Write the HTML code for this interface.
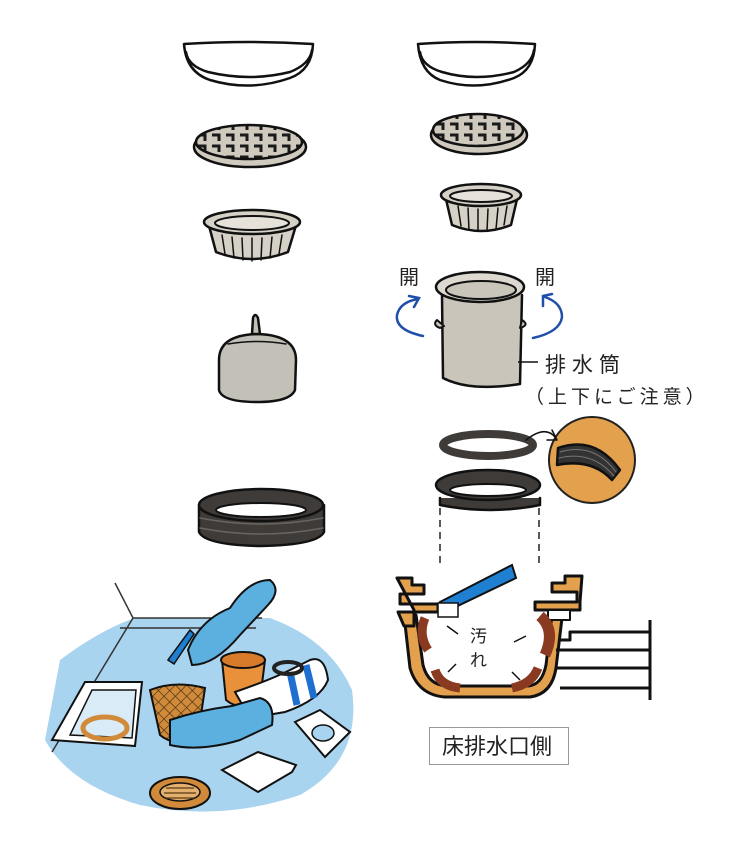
<!DOCTYPE html>
<html><head><meta charset="utf-8"><style>
html,body{margin:0;padding:0;background:#fff;}
svg{display:block}
text{font-family:"Liberation Sans","Noto Sans CJK JP",sans-serif;fill:#222;}
</style></head><body>
<svg width="735" height="841" viewBox="0 0 735 841" xmlns="http://www.w3.org/2000/svg">
<defs>
<pattern id="grid" width="14" height="11" patternUnits="userSpaceOnUse">
<rect width="14" height="11" fill="#cfcabd"/><path d="M2 3h7v6" stroke="#1a1a1a" stroke-width="3" fill="none"/>
</pattern>
<pattern id="mesh" width="8" height="8" patternUnits="userSpaceOnUse" patternTransform="rotate(45)">
<rect width="8" height="8" fill="#d08a3a"/><path d="M0 0H8M0 0V8" stroke="#3a2a10" stroke-width="1.2"/>
</pattern>
</defs>
<g stroke="#111" stroke-width="2.5" stroke-linejoin="round" stroke-linecap="round">
<!-- lids -->
<path d="M184 44 Q248 40 313 44 Q312 70 290 78 Q250 92 210 80 Q186 72 184 44Z" fill="#fff"/>
<path d="M186 52 Q188 66 208 72 Q250 82 290 72 Q310 64 312 50" fill="none"/>
<path d="M418 44 Q475 40 535 44 Q534 70 514 78 Q476 92 440 80 Q420 72 418 44Z" fill="#fff"/>
<path d="M420 52 Q422 66 442 72 Q476 82 514 72 Q532 64 534 50" fill="none"/>
<!-- grids -->
<ellipse cx="250" cy="147" rx="56" ry="20" fill="#cfcabd"/>
<ellipse cx="249" cy="142" rx="53" ry="17" fill="url(#grid)"/>
<ellipse cx="479" cy="135" rx="48" ry="19" fill="#cfcabd"/>
<ellipse cx="478" cy="130" rx="45" ry="16" fill="url(#grid)"/>
<!-- baskets -->
<path d="M208 222 L216 252 Q252 266 288 252 L297 222Z" fill="#d6d1c6"/>
<ellipse cx="252" cy="222" rx="48" ry="12" fill="#d6d1c6"/>
<ellipse cx="252" cy="223" rx="37" ry="7" fill="#e6e2da" stroke-width="2"/>
<path d="M222 235 L225 254 M232 237 L234 258 M242 238 L243 260 M252 238 L252 261 M262 238 L261 260 M272 237 L270 258 M282 235 L279 254" stroke-width="1.5"/>
<path d="M445 195 L452 225 Q481 237 511 225 L518 195Z" fill="#d6d1c6"/>
<ellipse cx="481" cy="195" rx="40" ry="11" fill="#d6d1c6"/>
<ellipse cx="481" cy="196" rx="31" ry="6" fill="#e6e2da" stroke-width="2"/>
<path d="M458 206 L461 226 M468 208 L469 230 M478 209 L478 231 M488 209 L487 231 M498 208 L496 229 M507 206 L504 225" stroke-width="1.5"/>
<!-- trap -->
<path d="M219 360 Q219 335 257 334 Q296 335 296 360 L295 390 Q290 402 257 402 Q222 402 219 390Z" fill="#c3c0b7"/>
<path d="M252 334 L253 318 Q255 312 258 318 L260 334Z" fill="#c3c0b7"/>
<path d="M228 344 Q257 339 286 344" fill="none" stroke-width="1.5"/>
<!-- left gasket -->
<path d="M199 505 L199 532 Q205 545 261 546 Q318 545 324 532 L324 505Z" fill="#3f3b38"/>
<path d="M200 518 Q261 530 323 518 M200 528 Q261 540 323 528" stroke="#6a6560" fill="none" stroke-width="1.5"/>
<ellipse cx="261" cy="505" rx="62" ry="16" fill="#3f3b38"/>
<ellipse cx="261" cy="510" rx="45" ry="7" fill="#fff" stroke-width="2"/>
<!-- cylinder -->
<path d="M442 295 L443 378 Q470 392 520 384 L522 295" fill="#c9c5bb"/>
<path d="M437 320 Q432 325 440 328 L444 326Z M522 320 Q530 325 520 328Z" fill="#c9c5bb" stroke-width="2"/>
<ellipse cx="480" cy="287" rx="44" ry="15" fill="#ddd9d0"/>
<ellipse cx="481" cy="290" rx="35" ry="9" fill="#c9c5bb" stroke-width="2"/>
<!-- right rings -->
<ellipse cx="488" cy="445" rx="45" ry="11" fill="none" stroke="#3f3b38" stroke-width="8"/>
<path d="M440 498 L440 505 Q490 515 540 505 L540 498" fill="#3f3b38"/>
<ellipse cx="488" cy="485" rx="52" ry="15" fill="#3f3b38"/>
<ellipse cx="488" cy="490" rx="38" ry="6" fill="#fff" stroke-width="2"/>
<!-- zoom circle -->
<circle cx="592" cy="460" r="43" fill="#e3a04d" stroke="#222" stroke-width="2"/>
<path d="M558 448 Q595 435 620 470 L612 480 Q592 458 557 465Z" fill="#333"/>
<path d="M560 452 Q594 442 616 472 M559 458 Q592 450 614 476" stroke="#777" stroke-width="1" fill="none"/>
<path d="M526 440 Q545 425 555 437" fill="none" stroke-width="1.5"/>
<path d="M552 430 L557 440 L547 440" fill="none" stroke-width="1.5"/>
</g>
<path d="M440 508 V565 M539 508 V565" stroke="#222" stroke-width="1.5" stroke-dasharray="7 5"/>
<g fill="none" stroke="#1f4fa8" stroke-width="2.5" stroke-linecap="round">
<path d="M423 336 Q395 330 397 315 Q400 302 418 299"/><path d="M409 296 L419 298 L414 307"/>
<path d="M533 338 Q560 332 562 317 Q562 303 545 297"/><path d="M543 306 L543 296 L552 294"/>
</g>
<text x="399" y="284" font-size="20">開</text>
<text x="535" y="284" font-size="20">開</text>
<path d="M518 362 H538" stroke="#111" stroke-width="1.5"/>
<text x="545" y="372" font-size="21" letter-spacing="6">排水筒</text>
<text x="525" y="403" font-size="19" letter-spacing="4">（上下にご注意）</text>
<!-- pipe -->
<g stroke="#111" stroke-width="3" stroke-linejoin="round">
<path d="M404 615 L410 668 Q418 695 445 697 L530 697 Q552 694 556 668 L562 618 L552 615 L546 665 Q542 685 528 686 L447 686 Q428 685 423 665 L416 615Z" fill="#e3a04d"/>
<path d="M557 668 H650 V700 M556 650 H650 V645 M560 640 H570 V632 H650 M650 620 V700" fill="none"/>
<path d="M560 688 H650" fill="none"/>
<path d="M397 578 H412 V585 H424 V594 H400 V604 H438 V612 H398 L404 626 L414 626 V610Z" fill="#e3a04d"/>
<path d="M582 576 H565 V583 H552 V592 H577 V602 H535 V610 H580 V602Z" fill="#e3a04d"/>
<path d="M548 610 H570 V620 H548Z" fill="#fff" stroke-width="2"/>
</g>
<path d="M425 618 Q418 635 428 650" stroke="#8a3a20" stroke-width="9" fill="none"/>
<path d="M540 616 Q556 630 545 655" stroke="#8a3a20" stroke-width="11" fill="none"/>
<path d="M435 670 Q440 686 460 688 M512 688 Q532 684 538 668" stroke="#8a3a20" stroke-width="9" fill="none"/>
<path d="M447 626 L458 634 M448 672 L456 664 M526 636 L514 642 M512 672 L520 680" stroke="#111" stroke-width="1.5"/>
<path d="M440 602 L512 565 L516 578 L445 612Z" fill="#1f7fd0" stroke="#111" stroke-width="2"/>
<rect x="438" y="603" width="20" height="14" fill="#fff" stroke="#111" stroke-width="1.5"/>
<text x="470" y="642" font-size="17">汚</text>
<text x="470" y="666" font-size="17">れ</text>
<rect x="429.5" y="727.5" width="139" height="37" fill="#fff" stroke="#999" stroke-width="1"/>
<text x="442" y="754" font-size="22">床排水口側</text>
<!-- bottom left scene -->
<path d="M60 660 Q100 630 135 618 L270 618 Q330 640 352 690 Q362 760 300 795 Q220 822 140 805 Q70 785 45 740 Z" fill="#a9d4ef"/>
<path d="M115 583 L133 618 H262 M133 618 L52 752 M120 628 H256" stroke="#333" stroke-width="1.5" fill="none"/>
<path d="M85 682 L142 682 L135 746 L52 740Z" fill="#fff" stroke="#111" stroke-width="2"/>
<path d="M92 690 L136 690 L132 738 L70 735Z" fill="#d8ebf6" stroke="#111" stroke-width="1.5"/>
<ellipse cx="105" cy="728" rx="22" ry="11" fill="none" stroke="#d08a3a" stroke-width="5"/>
<path d="M188 650 Q200 620 230 608 Q248 580 270 580 Q282 590 268 605 L240 635 Q215 665 192 665Z" fill="#5bb0e0" stroke="#111" stroke-width="2"/>
<path d="M168 660 L190 630 L194 634 L174 664Z" fill="#1f7fd0" stroke="#111" stroke-width="1.5"/>
<path d="M222 660 L265 660 L260 700 Q240 712 226 700Z" fill="#e8903a" stroke="#111" stroke-width="2"/>
<ellipse cx="243" cy="660" rx="22" ry="8" fill="#d77a2a" stroke="#111" stroke-width="2"/>
<path d="M235 692 Q270 680 290 670 L310 660 Q325 655 328 680 Q320 700 285 712 L250 718Z" fill="#fff" stroke="#111" stroke-width="2"/>
<path d="M290 672 L297 705 M306 665 L314 698" stroke="#1f6fd0" stroke-width="7"/>
<ellipse cx="288" cy="668" rx="14" ry="6" fill="none" stroke="#222" stroke-width="4"/>
<path d="M150 690 Q175 680 205 688 L198 735 Q175 748 160 735Z" fill="url(#mesh)" stroke="#111" stroke-width="2"/>
<path d="M170 720 Q200 710 232 706 L260 698 Q275 702 272 725 L240 740 Q200 752 170 745Z" fill="#5bb0e0" stroke="#111" stroke-width="2"/>
<path d="M295 722 L320 710 L350 732 L325 757Z" fill="#fff" stroke="#111" stroke-width="2"/>
<ellipse cx="323" cy="733" rx="11" ry="8" fill="#a9d4ef" stroke="#111" stroke-width="1.5"/>
<path d="M222 770 L258 752 L296 765 L292 772 L258 792Z" fill="#fff" stroke="#111" stroke-width="2"/>
<ellipse cx="180" cy="793" rx="30" ry="16" fill="#d08a3a" stroke="#111" stroke-width="2"/>
<ellipse cx="180" cy="792" rx="20" ry="9" fill="#e3b070" stroke="#111" stroke-width="1.5"/>
<path d="M166 788 H194 M164 793 H196 M166 798 H194" stroke="#5a3a10" stroke-width="1.2"/>
</svg>
</body></html>
